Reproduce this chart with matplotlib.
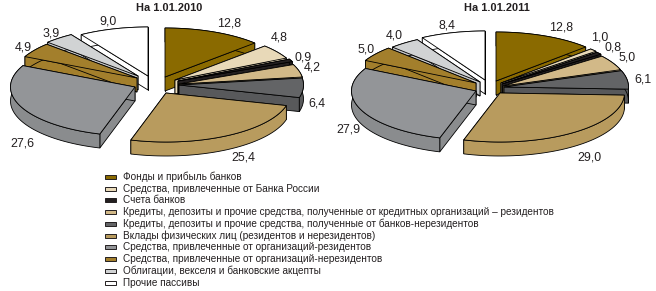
# Liabilities structure of banks: two exploded 3D pies
import numpy as np
import matplotlib
matplotlib.use("Agg")
import matplotlib.pyplot as plt
from matplotlib.patches import Polygon, Rectangle

plt.rcParams['font.family'] = ['Liberation Sans', 'DejaVu Sans']

# Data
categories = [
    "Фонды и прибыль банков",
    "Средства, привлеченные от Банка России",
    "Счета банков",
    "Кредиты, депозиты и прочие средства, полученные от кредитных организаций – резидентов",
    "Кредиты, депозиты и прочие средства, полученные от банков-нерезидентов",
    "Вклады физических лиц (резидентов и нерезидентов)",
    "Средства, привлеченные от организаций-резидентов",
    "Средства, привлеченные от организаций-нерезидентов",
    "Облигации, векселя и банковские акцепты",
    "Прочие пассивы",
]
values_2010 = [12.8, 4.8, 0.9, 4.2, 6.4, 25.4, 27.6, 4.9, 3.9, 9.0]
values_2011 = [12.8, 1.0, 0.8, 5.0, 6.1, 29.0, 27.9, 5.0, 4.0, 8.4]
title_2010 = "На 1.01.2010"
title_2011 = "На 1.01.2011"

# Styles and layout (pixels)
colors = ['#8a6a00', '#e8d9b8', '#231f20', '#d2b988', '#636466',
          '#b89b5e', '#939598', '#a37f2c', '#d1d3d4', '#ffffff']
side_colors = ['#8a6a00', '#e8d9b8', '#231f20', '#d2b988', '#58595b',
               '#b89b5e', '#8a8c8e', '#a37f2c', '#c4c6c8', '#ffffff']
apex_2010 = [(165, 77), (175, 80), (178, 81), (179, 84), (179, 85),
             (166, 93), (135, 87), (137, 78), (138, 76), (148, 76)]
apex_2011 = [(496, 81), (501, 83), (502, 84), (503, 86), (504, 87),
             (500, 93), (476, 91), (476, 83), (480, 82), (485, 80)]
labels_2010 = [(229, 24), (279, 38), (303, 57), (312, 68), (317, 103),
               (243, 157), (22, 144), (23, 48), (51, 33), (108, 22)]
labels_2011 = [(561, 28), (600, 37), (613, 47), (627, 57), (643, 79),
               (589, 158), (348, 129), (366, 49), (394, 35), (447, 26)]
legend_y = [177, 189, 200, 212, 224, 236, 247, 259, 271, 283]
RX, RY, DEPTH = 124.5, 49, 14


def draw_pie(ax, values, apexes, label_pos, title, title_x):
    edges = np.cumsum([0] + values) / sum(values) * 2 * np.pi
    mids = (edges[:-1] + edges[1:]) / 2
    # back slices first
    for i in np.argsort(-np.cos(mids)):
        ax0, ay0 = apexes[i]
        t = np.linspace(edges[i], edges[i + 1], 60)
        x = ax0 + RX * np.sin(t)
        y = ay0 - RY * np.cos(t)
        # two cut faces and the rim, then the top face
        for cx, cy in [(x[0], y[0]), (x[-1], y[-1])]:
            quad = [(ax0, ay0), (cx, cy), (cx, cy + DEPTH), (ax0, ay0 + DEPTH)]
            ax.add_patch(Polygon(quad, fc=side_colors[i], ec='black', lw=0.6))
        rim = np.r_[np.c_[x, y], np.c_[x, y + DEPTH][::-1]]
        ax.add_patch(Polygon(rim, fc=side_colors[i], ec='black', lw=0.6))
        top = np.c_[np.r_[ax0, x], np.r_[ay0, y]]
        ax.add_patch(Polygon(top, fc=colors[i], ec='black', lw=0.6, joinstyle='miter'))
    for v, (lx, ly) in zip(values, label_pos):
        ax.text(lx, ly, f"{v:.1f}".replace('.', ','), ha='center', va='center',
                fontsize=8.9, color='#231f20')
    ax.text(title_x, 8, title, ha='center', va='center', fontsize=7.9,
            fontweight='bold', color='#231f20')


fig = plt.figure(figsize=(6.56, 2.91), dpi=100)
ax = fig.add_axes([0, 0, 1, 1])
ax.set_xlim(0, 656)
ax.set_ylim(291, 0)
ax.axis('off')

draw_pie(ax, values_2010, apex_2010, labels_2010, title_2010, 169)
draw_pie(ax, values_2011, apex_2011, labels_2011, title_2011, 497)

# Legend
for name, c, ly in zip(categories, colors, legend_y):
    ax.add_patch(Rectangle((105, ly - 2.2), 11, 4.4, fc=c, ec='#231f20', lw=0.7))
    ax.text(123, ly, name, ha='left', va='center', fontsize=7.2, color='#231f20')

fig.savefig("out.png", dpi=100)
